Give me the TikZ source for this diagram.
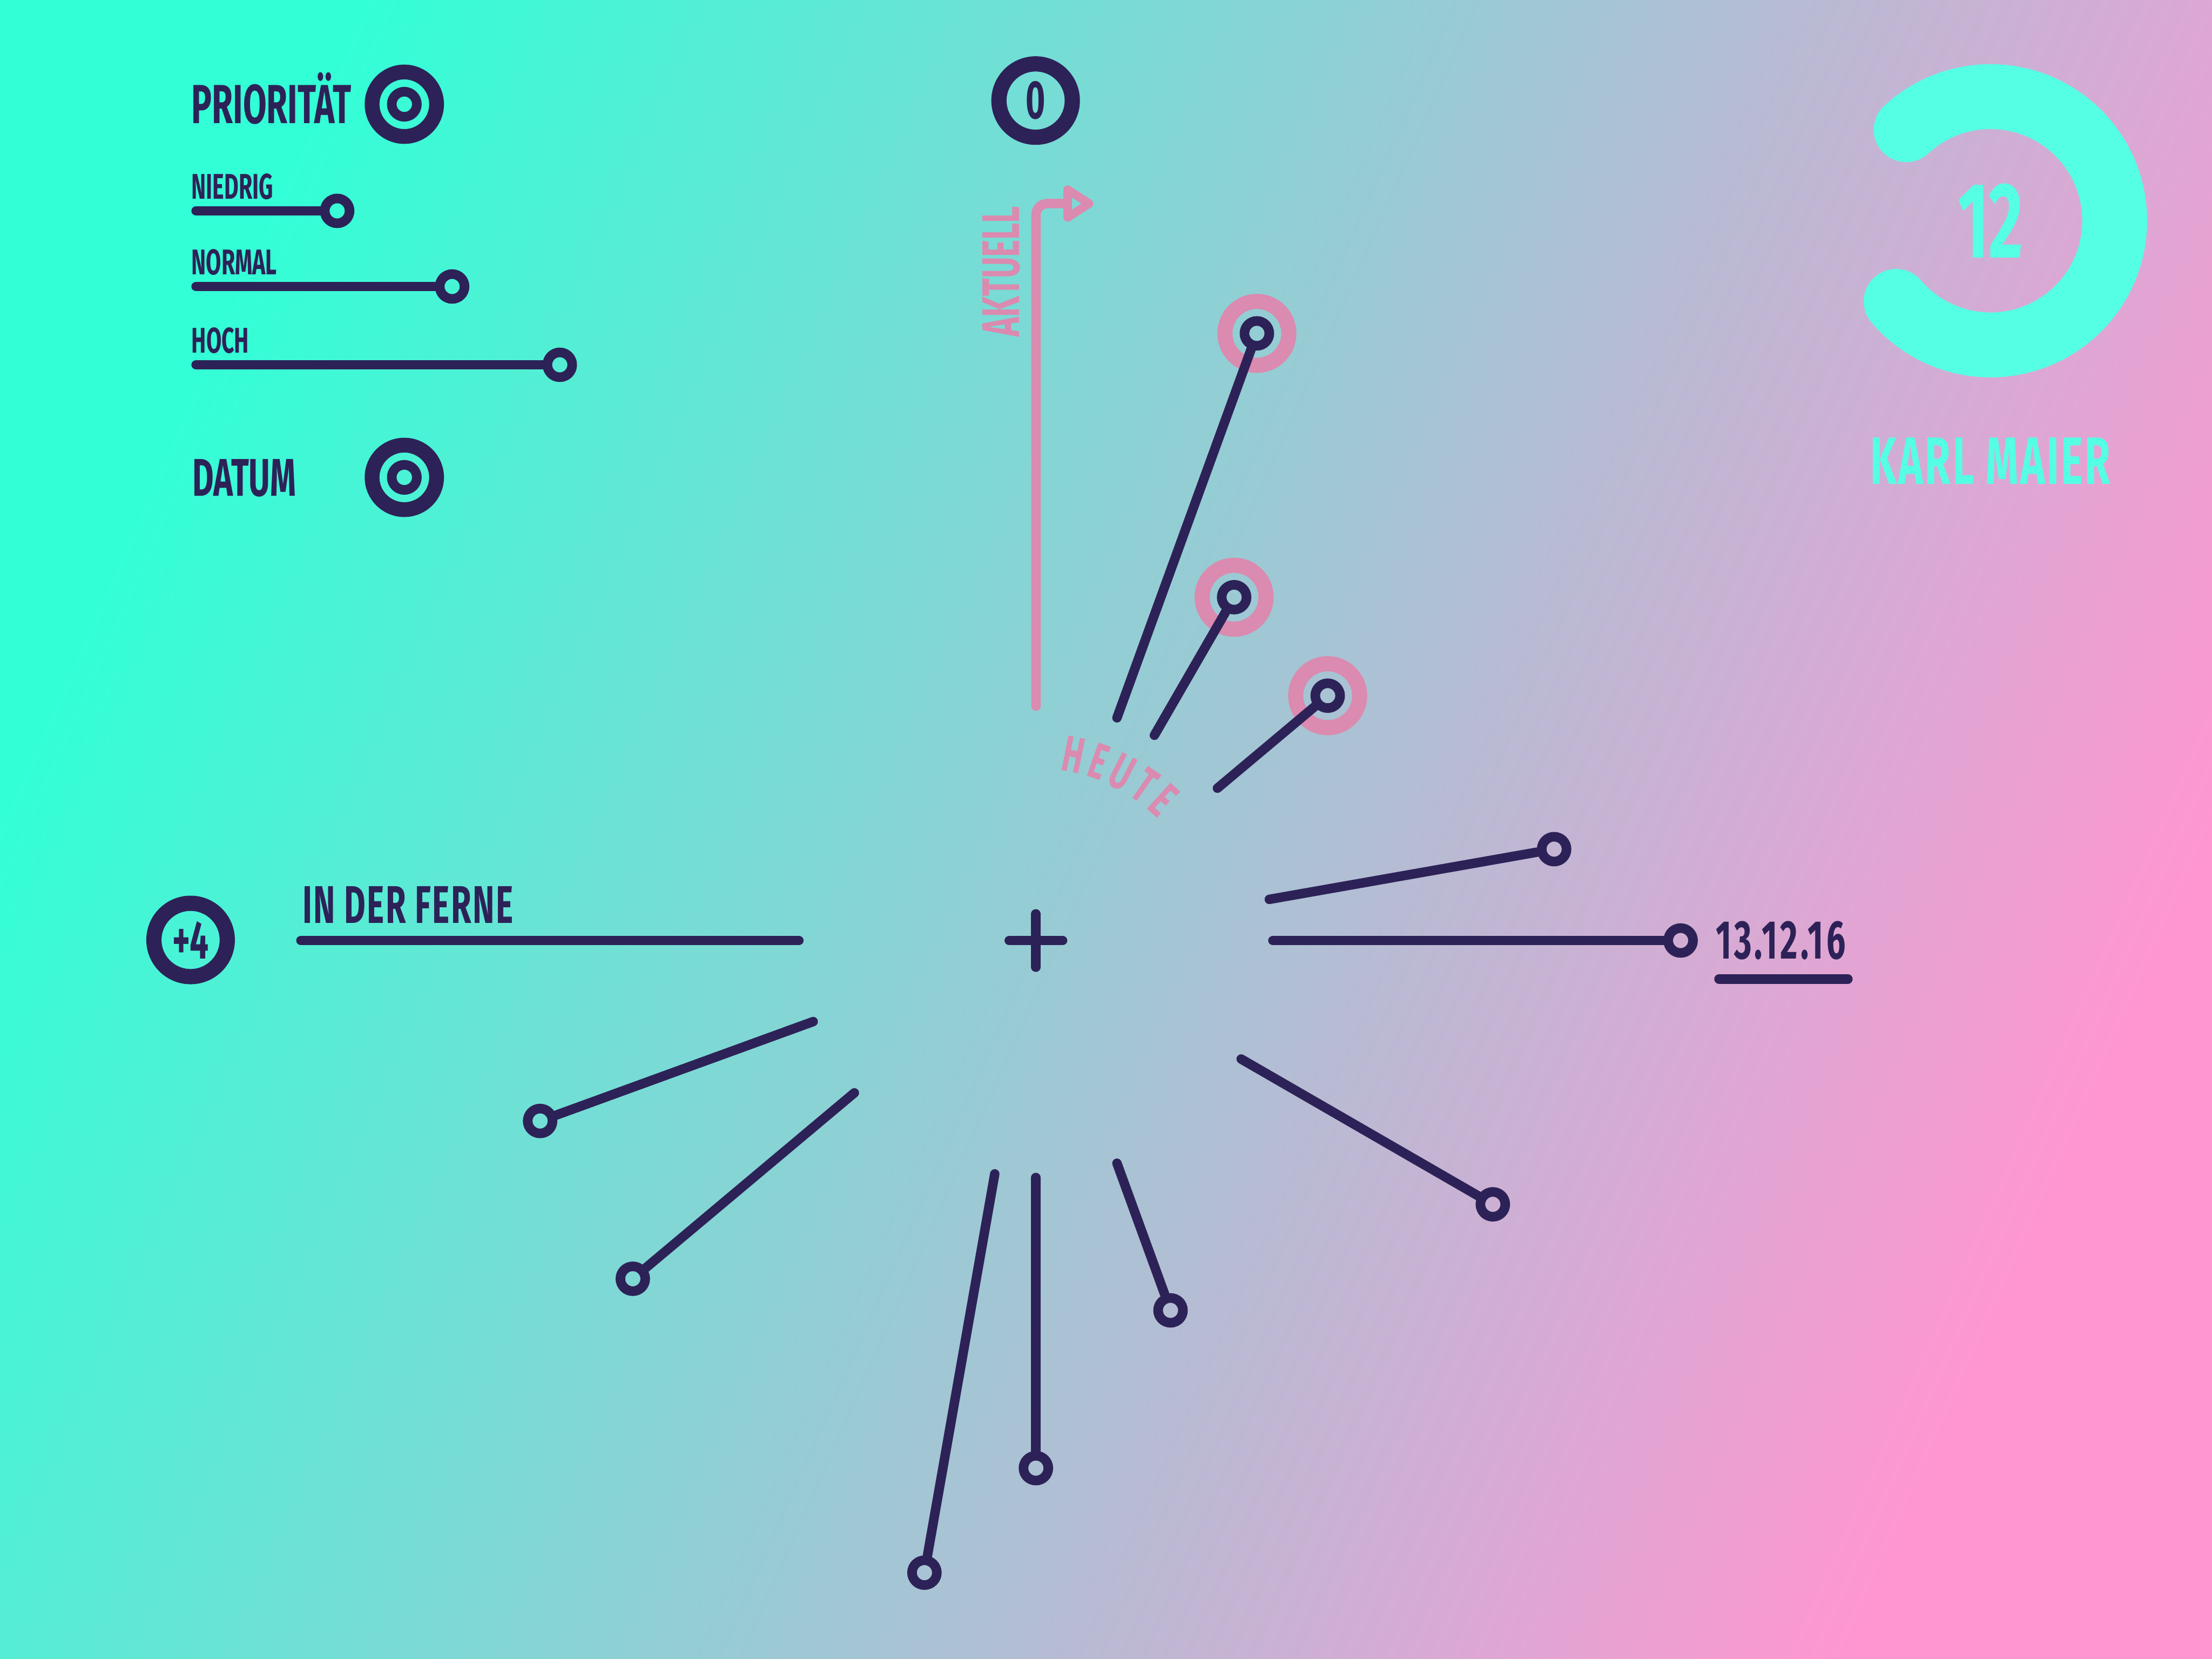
\documentclass[tikz,border=0pt]{standalone}
\usepackage{fontspec}
\newfontfamily\dinfont{Fira Sans}[FakeStretch=0.62]
\usetikzlibrary{arrows.meta, positioning, calc, decorations.text}

\definecolor{ink}{RGB}{45,34,87}
\definecolor{rosa}{RGB}{219,138,176}
\definecolor{mint}{RGB}{85,255,228}
\definecolor{bgmint}{RGB}{51,255,214}
\definecolor{bgmid}{RGB}{175,188,212}
\definecolor{bgrosa}{RGB}{255,150,210}

\newcommand\heutefont{\dinfont\bfseries\fontsize{10.2}{12}\selectfont\color{rosa}}

\begin{document}
\begin{tikzpicture}[
    legend/.style  = {inner sep=0pt, text=ink, font=\dinfont\bfseries\fontsize{10.7}{12}\selectfont},
    legendsm/.style= {legend, font=\dinfont\bfseries\fontsize{7.2}{8}\selectfont},
    knob/.style    = {circle, draw=ink, line width=0.68mm, minimum size=1.76mm, inner sep=0pt},
    halo/.style    = {circle, draw=rosa, line width=1.07mm, minimum size=4.53mm, inner sep=0pt},
    ring/.style    = {circle, draw=ink, line width=1.05mm, minimum size=4.57mm, inner sep=0pt},
    dot/.style     = {circle, draw=ink, line width=0.68mm, minimum size=1.78mm, inner sep=0pt},
    counter/.style = {circle, draw=ink, line width=1.08mm, minimum size=5.2mm, inner sep=0pt,
                      text=ink, font=\dinfont\bfseries\fontsize{10.9}{12}\selectfont},
    bar/.style     = {ink, line width=0.67mm, line cap=round},
]

% Background
\shade[left color=bgmint, middle color=bgmid, right color=bgrosa, shading angle=66] (0,0) rectangle (15.68,-11.76);

% Legend: priority
\node[legend, font=\dinfont\bfseries\fontsize{11.1}{12}\selectfont, anchor=base west] (prio) at (1.351,-0.873) {PRIORITÄT};
\node[ring] (prioring) at (2.866,-0.739) {};
\node[dot]  (priodot)  at (prioring) {};

\foreach \name/\y/\x [count=\i] in {NIEDRIG/1.412/2.39, NORMAL/1.948/3.205, HOCH/2.503/3.968} {
  \node[legendsm, anchor=base west] (lv\i) at (1.351,-\y) {\name};
  \coordinate (lvs\i) at (1.39,{-\y-0.083});
  \node[knob] (lvk\i) at (\x,{-\y-0.083}) {};
  \draw[bar] (lvs\i) -- (lvk\i);
}

% Legend: date
\node[legend, anchor=base west] (datum) at (1.356,-3.516) {DATUM};
\node[ring] (datring) at (2.866,-3.384) {};
\node[dot]  (datdot)  at (datring) {};

% Counter on top, current arrow
\node[counter] (zero) at (7.341,-0.713) {0};
\coordinate (akt0) at (7.344,-5.005);
\coordinate (akt1) at (7.75,-1.443);
\draw[rosa, line width=0.67mm, line cap=round, rounded corners=0.8mm,
      -{Triangle[open, round, length=2.4mm, width=2.9mm]}] (akt0) |- (akt1);
\node[legend, text=rosa, rotate=90] (akt) at (7.099,-1.924) {AKTUELL};

% Hub
\coordinate (hub) at (7.343,-6.667);
\draw[bar] ([xshift=-1.89mm]hub) -- ([xshift=1.89mm]hub);
\draw[bar] ([yshift=-1.89mm]hub) -- ([yshift=1.89mm]hub);

\path[decorate, decoration={text along path, text align=fit to path, text={|\heutefont|HEUTE}}]
  ($(hub)+(82:1.22)$) arc[start angle=82, end angle=45, radius=1.22];

% Today's tasks
\foreach \ang/\rad [count=\i] in {70/4.58, 60/2.81, 40/2.70} {
  \coordinate (ts\i) at ($(hub)+(\ang:1.68)$);
  \node[halo] (glow\i) at ($(hub)+(\ang:\rad)$) {};
  \node[knob] (now\i)  at (glow\i) {};
  \draw[bar] (ts\i) -- (now\i);
}

% Upcoming tasks
\foreach \ang/\rad [count=\i] in {10/3.73, 0/4.57, -30/3.74, -70/2.79, -90/3.74, -100/4.55, -140/3.73, -160/3.74} {
  \coordinate (s\i) at ($(hub)+(\ang:1.68)$);
  \node[knob] (k\i) at ($(hub)+(\ang:\rad)$) {};
  \draw[bar] (s\i) -- (k\i);
}

\node[legend, font=\dinfont\bfseries\fontsize{11}{12}\selectfont\addfontfeatures{LetterSpace=5}, right=1.2mm of k2] (date) {13.12.16};
\draw[bar] ([xshift=0.3mm, yshift=-1.43mm]date.base west) -- ([xshift=0.1mm, yshift=-1.43mm]date.base east);

% Far away
\node[counter] (plus) at (1.351,-6.663) {+4};
\node[legend, font=\dinfont\bfseries\fontsize{10.7}{12}\selectfont\addfontfeatures{LetterSpace=2.5}, anchor=base west] (far) at (2.137,-6.544) {IN DER FERNE};
\coordinate (far0) at (2.133,-6.667);
\coordinate (far1) at ($(hub)+(180:1.68)$);
\draw[bar] (far0) -- (far1);

% Score
\coordinate (score) at (14.11,-1.565);
\draw[mint, line width=4.6mm, line cap=round] ($(score)+(132.8:0.88)$) arc[start angle=132.8, end angle=-139.5, radius=0.88];
\node[inner sep=0pt, text=mint, font=\dinfont\bfseries\fontsize{21.7}{24}\selectfont] (num) at (score) {12};
\node[inner sep=0pt, text=mint, font=\dinfont\bfseries\fontsize{13.5}{15}\selectfont\addfontfeatures{LetterSpace=3}, below=12.6mm of num] (name) {KARL MAIER};

\end{tikzpicture}
\end{document}
